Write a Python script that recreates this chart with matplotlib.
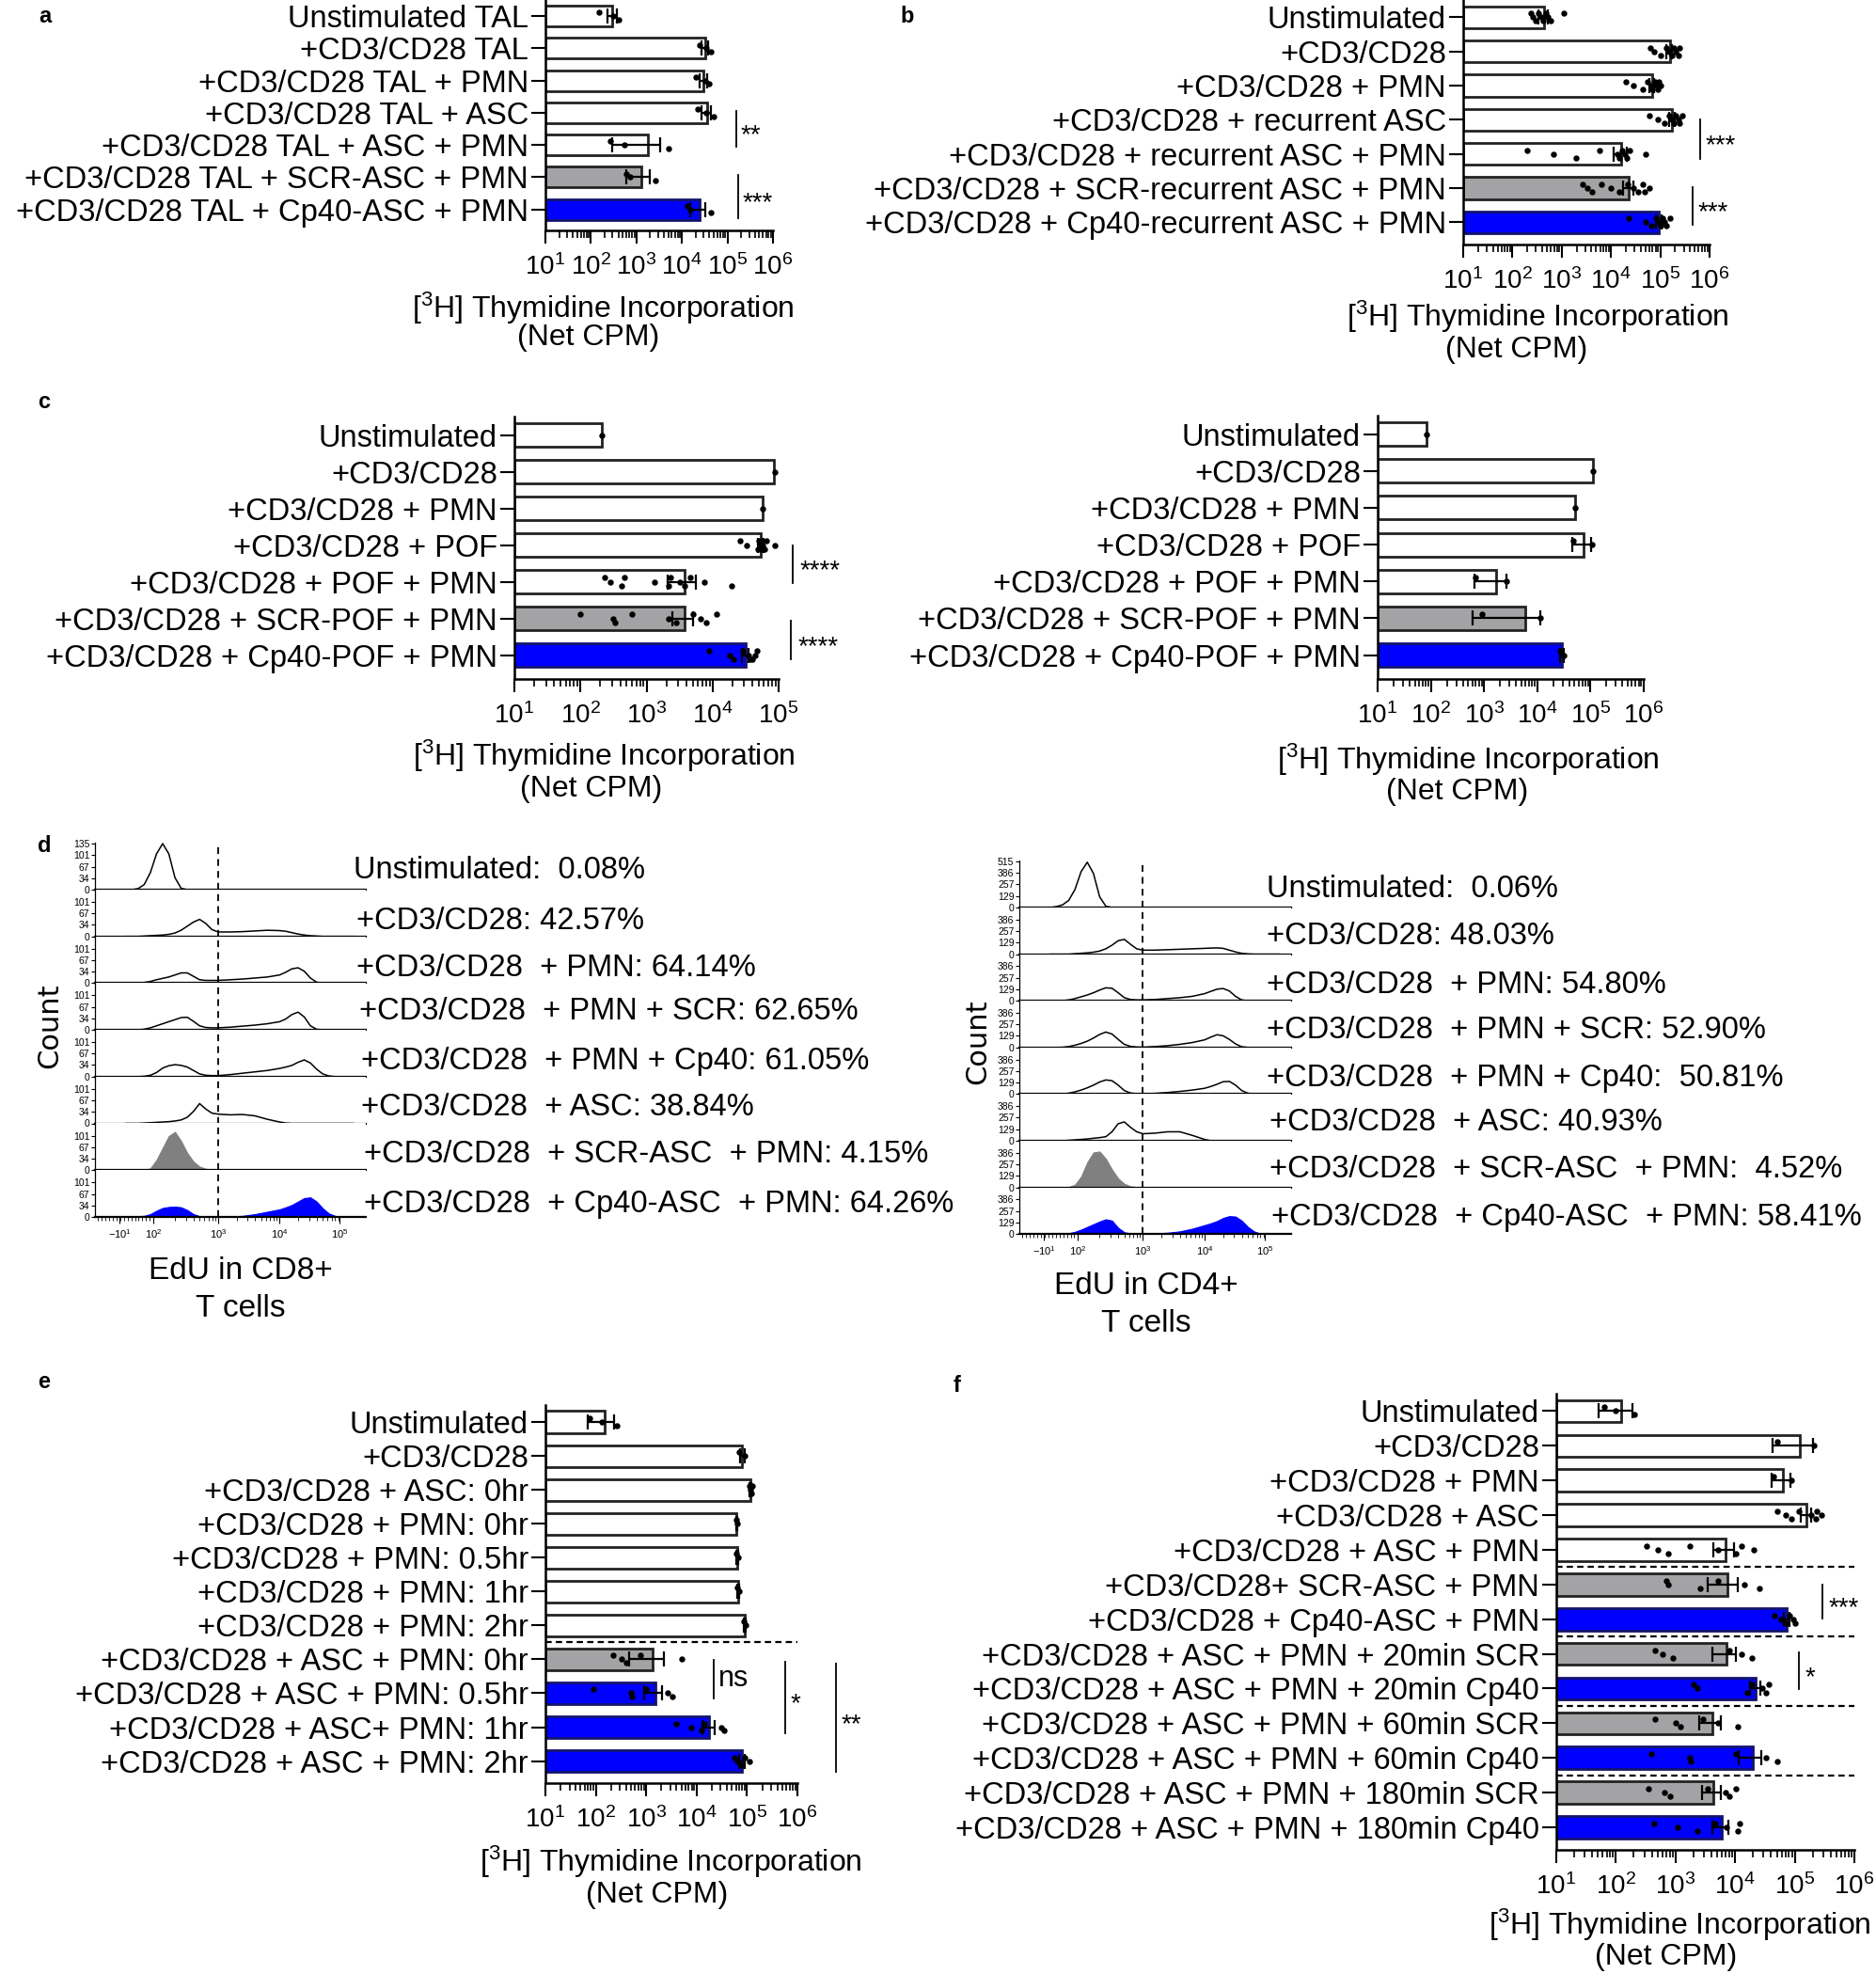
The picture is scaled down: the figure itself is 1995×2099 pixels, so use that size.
import numpy as np
import matplotlib
matplotlib.use("Agg")
import matplotlib.pyplot as plt
from matplotlib.ticker import LogLocator, NullFormatter

plt.rcParams["font.family"] = ["Liberation Sans", "DejaVu Sans"]
plt.rcParams["mathtext.fontset"] = "custom"
plt.rcParams["mathtext.rm"] = "Liberation Sans"
plt.rcParams["mathtext.it"] = "Liberation Sans:italic"
plt.rcParams["mathtext.bf"] = "Liberation Sans:bold"

W, H = 1995, 2099

# ---------------- panel a ----------------
a_labels = ["Unstimulated TAL", "+CD3/CD28 TAL", "+CD3/CD28 TAL + PMN", "+CD3/CD28 TAL + ASC",
            "+CD3/CD28 TAL + ASC + PMN", "+CD3/CD28 TAL + SCR-ASC + PMN",
            "+CD3/CD28 TAL + Cp40-ASC + PMN"]
a_mean = [300, 32000, 30000, 35000, 1800, 1300, 24000]
a_sem = [70, 5000, 5000, 8000, 1500, 700, 9000]
a_points = [[150, 310, 400], [25000, 34000, 44000], [20000, 32000, 40000],
            [22000, 34000, 50000], [270, 540, 5100], [600, 720, 2600],
            [13000, 15500, 43000]]

# ---------------- panel b ----------------
b_labels = ["Unstimulated", "+CD3/CD28", "+CD3/CD28 + PMN", "+CD3/CD28 + recurrent ASC",
            "+CD3/CD28 + recurrent ASC + PMN", "+CD3/CD28 + SCR-recurrent ASC + PMN",
            "+CD3/CD28 + Cp40-recurrent ASC + PMN"]
b_mean = [430, 155000, 68000, 175000, 16000, 23300, 93000]
b_sem = [90, 20000, 8000, 22000, 4500, 5500, 12000]
b_points = [[240, 260, 300, 330, 380, 420, 470, 520, 600, 1100],
            [63000, 75000, 100000, 130000, 150000, 170000, 190000, 210000, 230000, 250000],
            [20000, 28000, 45000, 55000, 65000, 70000, 78000, 85000, 90000, 95000, 100000],
            [60000, 90000, 120000, 150000, 170000, 190000, 210000, 230000, 250000, 280000],
            [200, 680, 1950, 5900, 13500, 15000, 17000, 19000, 21000, 23500, 51000],
            [2700, 3300, 4200, 6500, 10000, 15000, 22000, 28000, 35000, 45000, 60000, 48000],
            [23000, 50000, 65000, 80000, 90000, 100000, 110000, 120000, 135000, 160000]]

# ---------------- panel c ----------------
c_labels = ["Unstimulated", "+CD3/CD28", "+CD3/CD28 + PMN", "+CD3/CD28 + POF",
            "+CD3/CD28 + POF + PMN", "+CD3/CD28 + SCR-POF + PMN", "+CD3/CD28 + Cp40-POF + PMN"]
c1_mean = [210, 86000, 57000, 54000, 3800, 3800, 31500]
c1_sem = [0, 0, 0, 5000, 1700, 1300, 4000]
c1_points = [[210], [87000], [58000],
             [26000, 33000, 48000, 50000, 52000, 54000, 56000, 58000, 62000, 66000, 88000],
             [230, 280, 420, 460, 1320, 2140, 2340, 3160, 3800, 4570, 7400, 19500],
             [98, 310, 330, 600, 2140, 2800, 5000, 6500, 8100, 11500],
             [8900, 18000, 21000, 29000, 35000, 40000, 47000, 44000, 38000]]
c2_mean = [82, 112000, 51000, 75000, 1650, 6000, 29500]
c2_sem = [0, 0, 0, 29000, 1000, 5500, 2500]
c2_points = [[82], [112000], [51000], [48000, 105000], [680, 2650], [900, 11500], [27000, 32000]]

# ---------------- panel d (EdU histograms) ----------------
hist_u = [1.5, 1.6, 1.7, 1.8, 1.9, 2.0, 2.1, 2.2, 2.3, 2.4, 2.5, 2.6, 2.7, 2.8, 2.9, 3.0,
          3.2, 3.4, 3.6, 3.8, 4.0, 4.1, 4.2, 4.3, 4.4, 4.5, 4.6, 4.7, 4.8, 4.9, 5.0, 5.2]
cd8_unstim = [0, 0, 3, 15, 50, 105, 135, 105, 35, 4, 0, 0, 0, 0, 0, 0, 0, 0, 0, 0, 0, 0, 0, 0, 0, 0, 0, 0, 0, 0, 0, 0]
cd8_cd3 = [0, 0, 0, 1, 2, 3, 4, 6, 10, 18, 30, 42, 50, 38, 20, 13, 13, 14, 16, 18, 17, 15, 11, 7, 4, 2, 1, 0, 0, 0, 0, 0]
cd8_pmn = [0, 0, 0, 2, 5, 10, 14, 18, 24, 30, 30, 20, 10, 8, 8, 8, 10, 12, 15, 18, 24, 32, 42, 45, 35, 15, 3, 0, 0, 0, 0, 0]
cd8_pmn_scr = [0, 0, 0, 2, 6, 12, 18, 24, 30, 36, 37, 25, 12, 7, 6, 6, 8, 11, 14, 18, 24, 32, 45, 52, 38, 12, 2, 0, 0, 0, 0, 0]
cd8_pmn_cp40 = [0, 0, 0, 1, 4, 12, 25, 32, 35, 33, 28, 18, 8, 4, 3, 3, 6, 10, 14, 18, 24, 28, 33, 42, 49, 40, 22, 8, 2, 0, 0, 0]
cd8_asc = [0, 0, 0, 1, 2, 3, 4, 5, 7, 10, 18, 35, 58, 42, 30, 27, 25, 26, 22, 12, 4, 1, 0, 0, 0, 0, 0, 0, 0, 0, 0, 0]
cd8_scr_asc = [0, 0, 0, 1, 5, 30, 65, 100, 112, 85, 50, 25, 10, 4, 2, 1, 1, 1, 1, 1, 2, 2, 2, 2, 2, 2, 1, 1, 1, 0, 0, 0]
cd8_cp40_asc = [0, 1, 2, 3, 8, 18, 26, 29, 30, 28, 20, 8, 2, 1, 1, 1, 1, 3, 8, 15, 22, 28, 35, 45, 55, 57, 45, 25, 10, 3, 0, 0]
cd8_text = ["Unstimulated:  0.08%", "+CD3/CD28: 42.57%", "+CD3/CD28  + PMN: 64.14%",
            "+CD3/CD28  + PMN + SCR: 62.65%", "+CD3/CD28  + PMN + Cp40: 61.05%",
            "+CD3/CD28  + ASC: 38.84%", "+CD3/CD28  + SCR-ASC  + PMN: 4.15%",
            "+CD3/CD28  + Cp40-ASC  + PMN: 64.26%"]

cd4_unstim = [0, 10, 30, 80, 200, 400, 505, 380, 120, 15, 0, 0, 0, 0, 0, 0, 0, 0, 0, 0, 0, 0, 0, 0, 0, 0, 0, 0, 0, 0, 0, 0]
cd4_cd3 = [0, 0, 0, 0, 5, 10, 15, 22, 35, 60, 100, 150, 165, 110, 60, 45, 45, 50, 55, 60, 65, 68, 70, 65, 45, 25, 10, 3, 0, 0, 0, 0]
cd4_pmn = [0, 0, 2, 10, 25, 45, 65, 90, 120, 145, 140, 90, 35, 15, 10, 10, 15, 25, 35, 50, 80, 105, 130, 137, 110, 50, 10, 0, 0, 0, 0, 0]
cd4_pmn_scr = [0, 0, 2, 10, 25, 45, 70, 105, 145, 172, 150, 90, 35, 12, 5, 3, 10, 20, 35, 55, 85, 115, 142, 130, 90, 40, 8, 0, 0, 0, 0, 0]
cd4_pmn_cp40 = [0, 0, 2, 10, 25, 45, 70, 100, 135, 158, 150, 100, 40, 12, 5, 3, 8, 18, 30, 45, 65, 85, 110, 138, 142, 100, 40, 10, 0, 0, 0, 0]
cd4_asc = [0, 0, 0, 5, 10, 15, 20, 28, 35, 45, 100, 190, 210, 150, 100, 78, 85, 100, 100, 60, 15, 0, 0, 0, 0, 0, 0, 0, 0, 0, 0, 0]
cd4_scr_asc = [0, 0, 1, 5, 30, 120, 280, 390, 400, 320, 200, 100, 40, 12, 5, 3, 3, 3, 3, 3, 3, 3, 3, 4, 4, 3, 2, 1, 0, 0, 0, 0]
cd4_cp40_asc = [0, 0, 3, 10, 25, 50, 80, 110, 140, 165, 150, 70, 20, 8, 5, 5, 8, 15, 30, 60, 100, 120, 145, 180, 200, 195, 150, 80, 30, 5, 0, 0]
cd4_text = ["Unstimulated:  0.06%", "+CD3/CD28: 48.03%", "+CD3/CD28  + PMN: 54.80%",
            "+CD3/CD28  + PMN + SCR: 52.90%", "+CD3/CD28  + PMN + Cp40:  50.81%",
            "+CD3/CD28  + ASC: 40.93%", "+CD3/CD28  + SCR-ASC  + PMN:  4.52%",
            "+CD3/CD28  + Cp40-ASC  + PMN: 58.41%"]

# ---------------- panel e ----------------
e_labels = ["Unstimulated", "+CD3/CD28", "+CD3/CD28 + ASC: 0hr", "+CD3/CD28 + PMN: 0hr",
            "+CD3/CD28 + PMN: 0.5hr", "+CD3/CD28 + PMN: 1hr", "+CD3/CD28 + PMN: 2hr",
            "+CD3/CD28 + ASC + PMN: 0hr", "+CD3/CD28 + ASC + PMN: 0.5hr",
            "+CD3/CD28 + ASC+ PMN: 1hr", "+CD3/CD28 + ASC + PMN: 2hr"]
e_mean = [150, 81000, 118000, 62000, 64000, 67000, 91000, 1350, 1500, 17800, 81000]
e_sem = [80, 8000, 5000, 2000, 2000, 2000, 3000, 900, 600, 5000, 10000]
e_points = [[74, 130, 257], [70000, 92000], [110000, 116000, 122000, 125000],
            [60000, 64000], [62000, 66000], [65000, 69000], [88000, 94000],
            [220, 330, 400, 760, 5100], [91, 490, 510, 980, 2700, 3300],
            [4000, 7900, 12600, 14400, 31000, 35000], [56000, 64000, 80000, 90000, 112000]]

# ---------------- panel f ----------------
f_labels = ["Unstimulated", "+CD3/CD28", "+CD3/CD28 + PMN", "+CD3/CD28 + ASC",
            "+CD3/CD28 + ASC + PMN", "+CD3/CD28+ SCR-ASC + PMN", "+CD3/CD28 + Cp40-ASC + PMN",
            "+CD3/CD28 + ASC + PMN + 20min SCR", "+CD3/CD28 + ASC + PMN + 20min Cp40",
            "+CD3/CD28 + ASC + PMN + 60min SCR", "+CD3/CD28 + ASC + PMN + 60min Cp40",
            "+CD3/CD28 + ASC + PMN + 180min SCR", "+CD3/CD28 + ASC + PMN + 180min Cp40"]
f_mean = [121, 123000, 63000, 155000, 6900, 7300, 74000, 7200, 22000, 4100, 19500, 4300, 6000]
f_sem = [70, 80000, 22000, 30000, 2600, 3800, 9000, 3000, 4500, 1600, 8000, 1500, 1800]
f_points = [[63, 100, 204], [51000, 209000], [44000, 89000],
            [51000, 71000, 89000, 117000, 186000, 224000, 234000, 282000],
            [324, 513, 759, 1740, 5130, 10200, 12900, 20400],
            [692, 759, 2570, 5130, 14500, 25700],
            [46000, 58000, 71000, 83000, 95000, 100000],
            [457, 603, 912, 8130, 12900, 19000],
            [2040, 2290, 16200, 19000, 28800, 32400, 36300],
            [457, 1020, 1200, 2880, 5130, 11000],
            [389, 1740, 1820, 10200, 32400, 51300],
            [347, 646, 813, 3470, 6920, 8130, 10200],
            [437, 1100, 2290, 4570, 7240, 11000, 12000]]

# significance brackets: (x, row_from, row_to, text)
a_sig = [(1.55e5, 2.95, 4.05, "**"), (1.7e5, 4.93, 6.27, "***")]
b_sig = [(6.5e5, 3.0, 4.15, "***"), (4.6e5, 4.97, 6.07, "***")]
c_sig = [(1.65e5, 3.0, 4.03, "****"), (1.55e5, 5.05, 6.1, "****")]
e_sig = [(2.2e4, 7.03, 8.14, "ns"), (5.7e5, 7.08, 9.17, "*"), (5.9e6, 7.14, 10.33, "**")]
f_sig = [(2.9e5, 5.01, 5.99, "***"), (1.17e5, 6.96, 8.02, "*")]

FILL = {"w": ("white", "#222222"), "g": ("#a3a3a6", "#222222"), "b": ("#0000ff", "#14146e")}

fig = plt.figure(figsize=(W / 100, H / 100), dpi=100)


def box(l, t, r, b):
    return [l / W, 1 - b / H, (r - l) / W, (b - t) / H]


def ftext(x, y, s, **kw):
    fig.text(x / W, 1 - y / H, s, **kw)


def xtitle(x1, y1, x2, y2):
    ftext(x1, y1, r"$[^{3}$H] Thymidine Incorporation", fontsize=23, ha="center", va="center")
    ftext(x2, y2, "(Net CPM)", fontsize=23, ha="center", va="center")


def bar_panel(rect, labels, means, sems, points, fills, max_exp, seps=(), sig=()):
    ax = fig.add_axes(box(*rect))
    n = len(labels)
    y = np.arange(n)
    means = np.array(means, float)
    sems = np.array(sems, float)
    for i in range(n):
        fc, ec = FILL[fills[i]]
        ax.barh(y[i], means[i] - 10, left=10, height=0.64, color=fc, edgecolor=ec,
                linewidth=2, zorder=2)
    m = sems > 0
    lo = np.minimum(sems, means * 0.9)
    ax.errorbar(means[m], y[m], xerr=[lo[m], sems[m]], fmt="none", ecolor="black",
                elinewidth=1.6, capsize=6, capthick=1.6, zorder=4)
    for i, pts in enumerate(points):
        off = ((np.arange(len(pts)) % 3) - 1) * 0.11 if len(pts) > 1 else np.zeros(1)
        ax.plot(pts, y[i] + off, "o", ms=3.6, color="black", zorder=5, clip_on=False)
    ax.set_xscale("log")
    ax.set_xlim(10, 10 ** max_exp)
    ax.set_ylim(n - 0.35, -0.5)
    ax.set_xticks([10 ** k for k in range(1, max_exp + 1)])
    ax.set_xticklabels([r"$10^{%d}$" % k for k in range(1, max_exp + 1)])
    ax.xaxis.set_minor_locator(LogLocator(base=10, subs=np.arange(2, 10), numticks=100))
    ax.xaxis.set_minor_formatter(NullFormatter())
    ax.set_yticks(y)
    ax.set_yticklabels(labels, fontsize=23.5)
    ax.tick_params(axis="y", length=11, width=1.5, pad=2)
    ax.tick_params(axis="x", which="major", length=10, width=1.5, pad=8, labelsize=20)
    ax.tick_params(axis="x", which="minor", length=5.5, width=1.2)
    for s in ("top", "right"):
        ax.spines[s].set_visible(False)
    for s in ("left", "bottom"):
        ax.spines[s].set_linewidth(1.8)
    for s in seps:
        ax.plot([10, 10 ** max_exp], [s, s], ls=(0, (3, 2)), color="black", lw=1.6,
                clip_on=False)
    for x, y0, y1, txt in sig:
        ax.plot([x, x], [y0, y1], color="black", lw=1.3, clip_on=False)
        ty = (y0 + y1) / 2 + (0.2 if "*" in txt else 0)
        ax.text(x * 1.25, ty, txt, fontsize=22 if txt == "ns" else 20, ha="left",
                va="center", clip_on=False)
    return ax


def hist_panel(left, right, base0, step, curves, fills, ymax, yticks, toptick, xlab_x, xlab_y):
    minor = np.concatenate([np.arange(1.05, 1.92, 0.06)] +
                           [np.log10(np.arange(2, 10)) + d for d in (2, 3, 4)])
    for k, (cv, f) in enumerate(zip(curves, fills)):
        bottom = base0 + k * step
        ax = fig.add_axes(box(left, bottom - step, right, bottom))
        if f == "l":
            ax.plot(hist_u, cv, color="black", lw=1.1)
        else:
            col = "#808080" if f == "g" else "#0000ff"
            ax.fill_between(hist_u, 0, cv, color=col, lw=0.8, edgecolor=col)
        ax.axvline(3, ls=(0, (4, 3)), color="black", lw=1.3)
        ax.set_xlim(1.0, 5.4)
        ax.set_ylim(0, ymax)
        ticks = list(yticks) + ([toptick] if k == 0 else [])
        ax.set_yticks(ticks)
        ax.set_yticklabels([str(t) for t in ticks], fontsize=7.5)
        ax.tick_params(axis="y", length=3, width=0.8, pad=1)
        for s in ("top", "right"):
            ax.spines[s].set_visible(False)
        ax.spines["left"].set_linewidth(0.9)
        ax.spines["bottom"].set_linewidth(1.6)
        if k == len(curves) - 1:
            ax.set_xticks([1.4, 1.95, 3, 4, 4.97])
            ax.set_xticklabels([r"$-10^{1}$", r"$10^{2}$", r"$10^{3}$", r"$10^{4}$", r"$10^{5}$"],
                               fontsize=8)
            ax.set_xticks(minor, minor=True)
            ax.tick_params(axis="x", which="major", length=5, width=0.8, pad=3)
            ax.tick_params(axis="x", which="minor", length=3, width=0.6)
        else:
            ax.set_xticks([])
    ftext(xlab_x, xlab_y[0], xlab_y[2], fontsize=24, ha="center", va="center")
    ftext(xlab_x, xlab_y[1], "T cells", fontsize=24, ha="center", va="center")


# ---- bar panels ----
bar_panel((580, 0, 822, 245), a_labels, a_mean, a_sem, a_points, "wwwwwgb", 6, sig=a_sig)
xtitle(641, 328, 626, 359)
bar_panel((1556, 0, 1818, 260), b_labels, b_mean, b_sem, b_points, "wwwwwgb", 6, sig=b_sig)
xtitle(1635, 337, 1613, 372)
bar_panel((547, 443, 828, 722), c_labels, c1_mean, c1_sem, c1_points, "wwwwwgb", 5, sig=c_sig)
xtitle(642, 804, 629, 839)
bar_panel((1465, 442, 1748, 722), c_labels, c2_mean, c2_sem, c2_points, "wwwwwgb", 6)
xtitle(1561, 808, 1550, 842)
bar_panel((580, 1494, 848, 1896), e_labels, e_mean, e_sem, e_points, "wwwwwwwgbbb", 6,
          seps=[6.5], sig=e_sig)
xtitle(713, 1980, 699, 2015)
bar_panel((1655, 1482, 1972, 1967), f_labels, f_mean, f_sem, f_points, "wwwwwgbgbgbgb", 6,
          seps=[4.5, 6.5, 8.5, 10.5], sig=f_sig)
xtitle(1786, 2047, 1772, 2081)

# ---- histogram panels ----
hist_panel(101, 389, 946, 49.7,
           [cd8_unstim, cd8_cd3, cd8_pmn, cd8_pmn_scr, cd8_pmn_cp40, cd8_asc, cd8_scr_asc, cd8_cp40_asc],
           "llllllgb", 137, [0, 34, 67, 101], 135, 256, (1352, 1392, "EdU in CD8+"))
hist_panel(1084, 1373, 965, 49.6,
           [cd4_unstim, cd4_cd3, cd4_pmn, cd4_pmn_scr, cd4_pmn_cp40, cd4_asc, cd4_scr_asc, cd4_cp40_asc],
           "llllllgb", 520, [0, 129, 257, 386], 515, 1219, (1367, 1407, "EdU in CD4+"))

cd8_pos = [(376, 925), (379, 979), (379, 1030), (382, 1076), (384, 1128), (384, 1178),
           (387, 1228), (387, 1281)]
cd4_pos = [(1347, 945), (1347, 996), (1347, 1047), (1347, 1096), (1347, 1146), (1350, 1194),
           (1350, 1243), (1352, 1295)]
for (x, y), s in zip(cd8_pos, cd8_text):
    ftext(x, y, s, fontsize=23.5, ha="left", va="center")
for (x, y), s in zip(cd4_pos, cd4_text):
    ftext(x, y, s, fontsize=23.5, ha="left", va="center")

ftext(53, 1091, "Count", fontsize=22, rotation=90, ha="center", va="center", family="DejaVu Sans")
ftext(1040, 1108, "Count", fontsize=22, rotation=90, ha="center", va="center", family="DejaVu Sans")

# ---- panel letters ----
for s, x, y in [("a", 48, 17), ("b", 965, 17), ("c", 47, 428), ("d", 47, 900),
                ("e", 47, 1469), ("f", 1018, 1474)]:
    ftext(x, y, s, fontsize=17, fontweight="bold", ha="center", va="center")

fig.savefig("out.png", dpi=100)
